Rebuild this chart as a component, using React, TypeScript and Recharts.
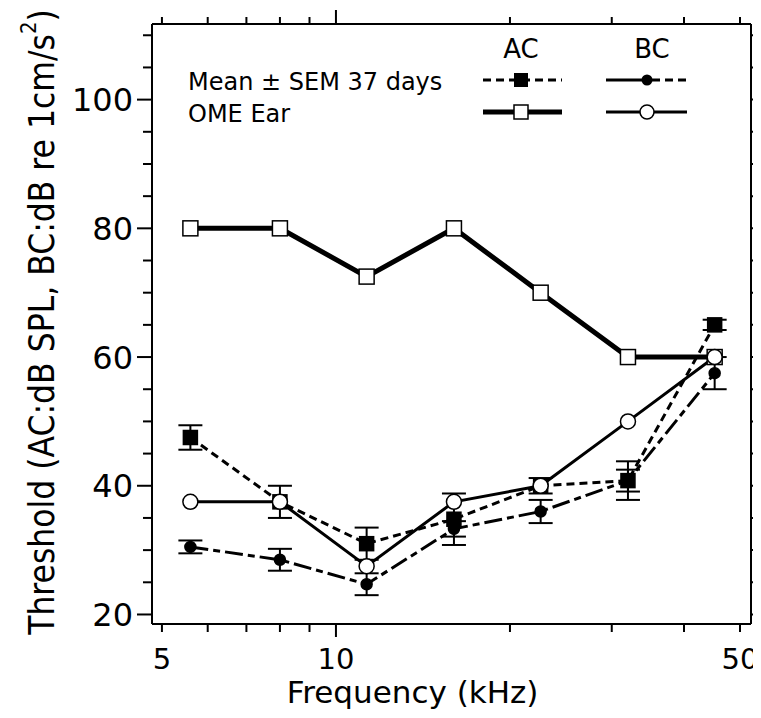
import React from 'react';
import { LineChart, Line, XAxis, YAxis, ErrorBar, Label } from 'recharts';

// frequencies (kHz) and thresholds
const freqs = [5.6, 8, 11.3, 16, 22.6, 32, 45.2];
const acMean = [47.5, 37.5, 31, 34.8, 40, 40.8, 65];
const acMeanSem = [1.9, 2.5, 2.5, 4, 1.2, 3, 0.8];
const bcMean = [30.5, 28.5, 24.7, 33.3, 36, 40.8, 57.5];
const bcMeanSem = [1, 1.7, 1.7, 1.2, 1.8, 1.7, 2.5];
const acOme = [80, 80, 72.5, 80, 70, 60, 60];
const bcOme = [37.5, 37.5, 27.5, 37.5, 40, 50, 60];

const xTicks = [5, 6, 7, 8, 9, 10, 20, 30, 40, 50];
const xLabels = [5, 10, 50];
const yTicks = [20, 25, 30, 35, 40, 45, 50, 55, 60, 65, 70, 75, 80, 85, 90, 95, 100, 105, 110];
const yLabels = [20, 40, 60, 80, 100];

const SANS = "'DejaVu Sans', sans-serif";
const COND = "'DejaVu Sans Condensed', 'DejaVu Sans', sans-serif";

const W = 753;
const H = 708;

const data = freqs.map((f, i) => ({
  f,
  acMean: acMean[i],
  acMeanErr: acMeanSem[i],
  bcMean: bcMean[i],
  bcMeanErr: bcMeanSem[i],
  acOme: acOme[i],
  bcOme: bcOme[i],
}));

const BottomTick = (props: any) => {
  const { x, y, payload } = props;
  const v = payload.value;
  const len = v === 10 ? 13 : 8;
  return (
    <g>
      <line x1={x} y1={y} x2={x} y2={y + len} stroke="#000" strokeWidth={2} />
      {xLabels.includes(v) && (
        <text x={x} y={y + 45} textAnchor="middle" fontSize={29} fontFamily={SANS} fill="#000">
          {v}
        </text>
      )}
    </g>
  );
};

const TopTick = (props: any) => {
  const { x, y, payload } = props;
  const len = payload.value === 10 ? 14 : 7;
  return <line x1={x} y1={y} x2={x} y2={y - len} stroke="#000" strokeWidth={2} />;
};

const LeftTick = (props: any) => {
  const { x, y, payload } = props;
  const v = payload.value;
  const major = yLabels.includes(v);
  return (
    <g>
      <line x1={x} y1={y} x2={x - (major ? 15 : 9)} y2={y} stroke="#000" strokeWidth={2} />
      {major && (
        <text x={x - 19} y={y + 11.5} textAnchor="end" fontSize={32} fontFamily={SANS} fill="#000">
          {v}
        </text>
      )}
    </g>
  );
};

const RightTick = (props: any) => {
  const { x, y } = props;
  return <line x1={x} y1={y} x2={x + 8} y2={y} stroke="#000" strokeWidth={2} />;
};

const squareDot = (filled: boolean, size: number) => (p: any) => {
  if (p.cx == null || p.cy == null) return <g key={p.index} />;
  return (
    <rect
      key={p.index}
      x={p.cx - size / 2}
      y={p.cy - size / 2}
      width={size}
      height={size}
      fill={filled ? '#000' : '#fff'}
      stroke="#000"
      strokeWidth={1.5}
    />
  );
};

const circleDot = (filled: boolean, r: number) => (p: any) => {
  if (p.cx == null || p.cy == null) return <g key={p.index} />;
  return <circle key={p.index} cx={p.cx} cy={p.cy} r={r} fill={filled ? '#000' : '#fff'} stroke="#000" strokeWidth={1.5} />;
};

const YTitle = () => {
  const cx = 34;
  const cy = 314;
  return (
    <text
      x={cx}
      y={cy}
      transform={`rotate(-90, ${cx}, ${cy})`}
      textAnchor="middle"
      dominantBaseline="central"
      fontSize={35}
      fontFamily={COND}
      fill="#000"
    >
      Threshold (AC:dB SPL, BC:dB re 1cm/s
      <tspan fontSize={22} dy={-14}>2</tspan>
      <tspan dy={14}>)</tspan>
    </text>
  );
};

const LegendBox = () => (
  <svg width={W} height={H} style={{ position: 'absolute', left: 0, top: 0, pointerEvents: 'none' }}>
    <g fontFamily={SANS} fill="#000" fontSize={24}>
      <text x={513} y={50} fontSize={26} textAnchor="middle">AC</text>
      <text x={644} y={50} fontSize={26} textAnchor="middle">BC</text>
      <text x={180} y={82}>Mean ± SEM 37 days</text>
      <text x={180} y={114}>OME Ear</text>
    </g>
    {/* AC mean sample */}
    <line x1={475} y1={72} x2={554} y2={72} stroke="#000" strokeWidth={3} strokeDasharray="8 5" />
    <rect x={506} y={65} width={14} height={14} fill="#000" />
    {/* BC mean sample */}
    <line x1={598} y1={72} x2={638} y2={72} stroke="#000" strokeWidth={3} />
    <line x1={640} y1={72} x2={679} y2={72} stroke="#000" strokeWidth={3} strokeDasharray="8 5" strokeDashoffset={-4} />
    <circle cx={639} cy={72} r={5.5} fill="#000" />
    {/* OME AC sample */}
    <line x1={475} y1={104} x2={554} y2={104} stroke="#000" strokeWidth={5} />
    <rect x={506} y={97} width={14} height={14} fill="#fff" stroke="#000" strokeWidth={1.5} />
    {/* OME BC sample */}
    <line x1={598} y1={104} x2={679} y2={104} stroke="#000" strokeWidth={3} />
    <circle cx={639} cy={104} r={7} fill="#fff" stroke="#000" strokeWidth={1.5} />
  </svg>
);

export default function App() {
  return (
    <div style={{ position: 'relative', width: W, height: H }}>
      <LineChart width={W} height={H} data={data} margin={{ top: 0, right: 0, bottom: 0, left: 0 }}>
        <XAxis
          xAxisId="b"
          dataKey="f"
          type="number"
          scale="log"
          domain={[4.806, 52.24]}
          allowDataOverflow
          ticks={xTicks}
          interval={0}
          height={92}
          tickSize={0}
          tickMargin={0}
          tickLine={false}
          axisLine={{ stroke: '#000', strokeWidth: 2 }}
          tick={<BottomTick />}
        >
          <Label
            content={() => (
              <text x={404.5} y={695} textAnchor="middle" fontSize={31} fontFamily={SANS} fill="#000">
                Frequency (kHz)
              </text>
            )}
          />
        </XAxis>
        <XAxis
          xAxisId="t"
          orientation="top"
          dataKey="f"
          type="number"
          scale="log"
          domain={[4.806, 52.24]}
          allowDataOverflow
          ticks={xTicks}
          interval={0}
          height={16}
          tickSize={0}
          tickMargin={0}
          tickLine={false}
          axisLine={{ stroke: '#000', strokeWidth: 2 }}
          tick={<TopTick />}
        />
        <YAxis
          yAxisId="l"
          type="number"
          domain={[18.52, 111.75]}
          allowDataOverflow
          ticks={yTicks}
          interval={0}
          width={144}
          tickSize={0}
          tickMargin={0}
          tickLine={false}
          axisLine={{ stroke: '#000', strokeWidth: 2 }}
          tick={<LeftTick />}
        >
          <Label content={<YTitle />} />
        </YAxis>
        <YAxis
          yAxisId="r"
          orientation="right"
          type="number"
          domain={[18.52, 111.75]}
          allowDataOverflow
          ticks={yTicks}
          interval={0}
          width={10}
          tickSize={0}
          tickMargin={0}
          tickLine={false}
          axisLine={{ stroke: '#000', strokeWidth: 2 }}
          tick={<RightTick />}
        />
        <Line
          xAxisId="b"
          yAxisId="l"
          dataKey="bcMean"
          stroke="#000"
          strokeWidth={3}
          strokeDasharray="18 5 7 5"
          dot={circleDot(true, 5.5)}
          isAnimationActive={false}
        >
          <ErrorBar dataKey="bcMeanErr" direction="y" width={12} stroke="#000" strokeWidth={2} />
        </Line>
        <Line
          xAxisId="b"
          yAxisId="l"
          dataKey="acMean"
          stroke="#000"
          strokeWidth={3}
          strokeDasharray="8 5"
          dot={squareDot(true, 14)}
          isAnimationActive={false}
        >
          <ErrorBar dataKey="acMeanErr" direction="y" width={12} stroke="#000" strokeWidth={2} />
        </Line>
        <Line
          xAxisId="b"
          yAxisId="l"
          dataKey="acOme"
          stroke="#000"
          strokeWidth={5}
          dot={squareDot(false, 15)}
          isAnimationActive={false}
        />
        <Line
          xAxisId="b"
          yAxisId="l"
          dataKey="bcOme"
          stroke="#000"
          strokeWidth={3}
          dot={circleDot(false, 7.5)}
          isAnimationActive={false}
        />
      </LineChart>
      <LegendBox />
    </div>
  );
}
